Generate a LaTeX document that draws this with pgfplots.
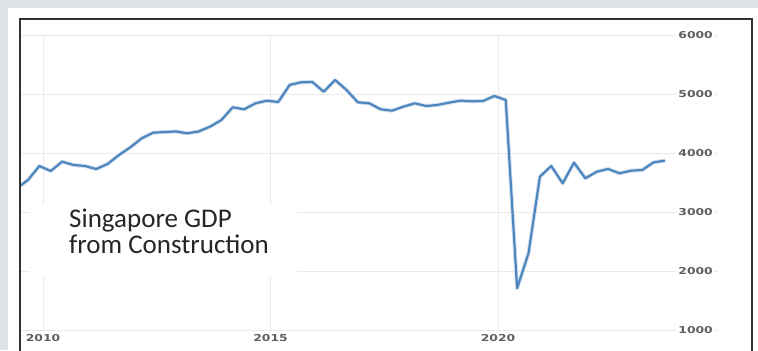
\documentclass[border=0pt]{standalone}
\usepackage{pgfplots}
\pgfplotsset{compat=1.18}
\usepackage{fontspec}
\setmainfont{Carlito}
\newfontfamily\tickfont{DejaVu Sans}
\definecolor{bgouter}{RGB}{221,227,230}
\definecolor{gridc}{RGB}{234,234,234}
\definecolor{linec}{RGB}{78,134,190}
\definecolor{tickc}{RGB}{95,95,95}
\newcommand{\tl}[1]{\scalebox{1.3}[1]{#1}}
\begin{document}
\begin{tikzpicture}[x=1bp,y=1bp]
\path[use as bounding box, clip] (0,0) rectangle (758,350);
\fill[bgouter] (0,0) rectangle (758,350);
\fill[white] (8,-2) rectangle (758,342);
\begin{axis}[
  at={(20bp,20bp)}, anchor=south west,
  scale only axis, width=698bp, height=295bp,
  xmin=2009.4945, xmax=2024.835,
  ymin=1000, ymax=6000,
  axis line style={draw=none},
  major tick length=0pt,
  xtick={2010,2015,2020},
  xticklabels={\tl{2010},\tl{2015},\tl{2020}},
  ytick={1000,2000,3000,4000,5000,6000},
  yticklabels={\tl{1000},\tl{2000},\tl{3000},\tl{4000},\tl{5000},\tl{6000}},
  ymajorgrids, xmajorgrids,
  grid style={gridc, line width=0.8bp},
  ticklabel style={font=\tickfont\bfseries\fontsize{9.5bp}{11bp}\selectfont, text=tickc},
  yticklabel pos=right,
  yticklabel style={anchor=east, xshift=-4bp, fill=white, inner sep=1bp},
  xticklabel style={yshift=-1bp},
  clip=true,
]
\addplot[linec!25, line width=4bp, line join=round] coordinates {
(2009.42,3400) (2009.67,3542) (2009.92,3780) (2010.17,3695) (2010.42,3853)
(2010.67,3797) (2010.92,3780) (2011.17,3729) (2011.42,3814) (2011.67,3966)
(2011.92,4097) (2012.17,4249) (2012.42,4344) (2012.67,4355) (2012.92,4365)
(2013.17,4334) (2013.42,4365) (2013.67,4446) (2013.92,4559) (2014.17,4775)
(2014.42,4741) (2014.67,4842) (2014.92,4887) (2015.17,4864) (2015.42,5153)
(2015.67,5198) (2015.92,5203) (2016.17,5039) (2016.42,5237) (2016.67,5068)
(2016.92,4859) (2017.17,4842) (2017.42,4741) (2017.67,4717) (2017.92,4785)
(2018.17,4842) (2018.42,4797) (2018.67,4814) (2018.92,4853) (2019.17,4887)
(2019.42,4876) (2019.67,4881) (2019.92,4966) (2020.17,4898) (2020.42,1707)
(2020.67,2300) (2020.92,3598) (2021.17,3780) (2021.42,3486) (2021.67,3836)
(2021.92,3571) (2022.17,3683) (2022.42,3729) (2022.67,3656) (2022.92,3700)
(2023.17,3712) (2023.42,3842) (2023.67,3870)
};
\addplot[linec, line width=2.2bp, line join=round] coordinates {
(2009.42,3400) (2009.67,3542) (2009.92,3780) (2010.17,3695) (2010.42,3853)
(2010.67,3797) (2010.92,3780) (2011.17,3729) (2011.42,3814) (2011.67,3966)
(2011.92,4097) (2012.17,4249) (2012.42,4344) (2012.67,4355) (2012.92,4365)
(2013.17,4334) (2013.42,4365) (2013.67,4446) (2013.92,4559) (2014.17,4775)
(2014.42,4741) (2014.67,4842) (2014.92,4887) (2015.17,4864) (2015.42,5153)
(2015.67,5198) (2015.92,5203) (2016.17,5039) (2016.42,5237) (2016.67,5068)
(2016.92,4859) (2017.17,4842) (2017.42,4741) (2017.67,4717) (2017.92,4785)
(2018.17,4842) (2018.42,4797) (2018.67,4814) (2018.92,4853) (2019.17,4887)
(2019.42,4876) (2019.67,4881) (2019.92,4966) (2020.17,4898) (2020.42,1707)
(2020.67,2300) (2020.92,3598) (2021.17,3780) (2021.42,3486) (2021.67,3836)
(2021.92,3571) (2022.17,3683) (2022.42,3729) (2022.67,3656) (2022.92,3700)
(2023.17,3712) (2023.42,3842) (2023.67,3870)
};
\end{axis}
\fill[white] (30,73) rectangle (297,145);
\node[anchor=base west, inner sep=0pt, text=black!85, font=\fontsize{27bp}{29bp}\selectfont] at (69,123) {Singapore GDP};
\node[anchor=base west, inner sep=0pt, text=black!85, font=\fontsize{27bp}{29bp}\selectfont] at (69,96.5) {from Construction};
\draw[black!80, line width=2bp] (19.7,330.8) rectangle (752.3,-10);
\end{tikzpicture}
\end{document}
